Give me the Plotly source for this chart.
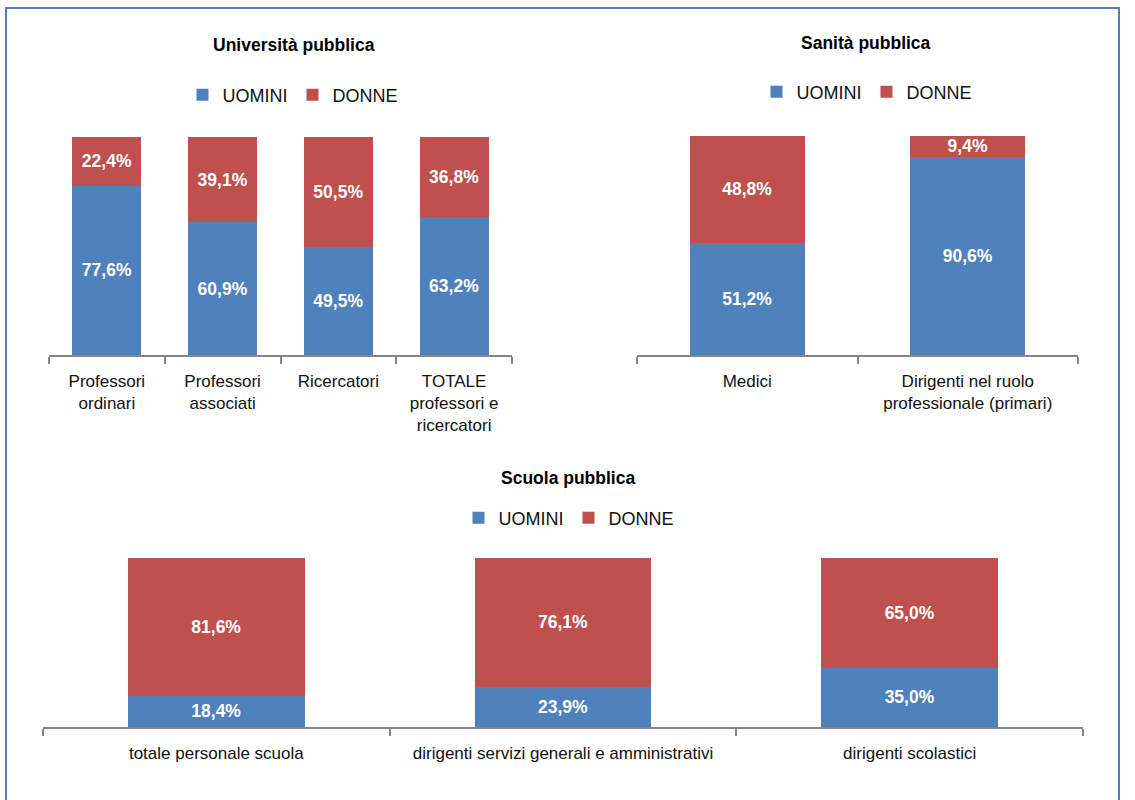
import plotly.graph_objects as go

# ---- data ----
uni_cats = ["Professori<br>ordinari", "Professori<br>associati", "Ricercatori",
            "TOTALE<br>professori e<br>ricercatori"]
uni_uomini = [77.6, 60.9, 49.5, 63.2]
uni_donne = [22.4, 39.1, 50.5, 36.8]

san_cats = ["Medici", "Dirigenti nel ruolo<br>professionale (primari)"]
san_uomini = [51.2, 90.6]
san_donne = [48.8, 9.4]

sc_cats = ["totale personale scuola", "dirigenti servizi generali e amministrativi",
           "dirigenti scolastici"]
sc_uomini = [18.4, 23.9, 35.0]
sc_donne = [81.6, 76.1, 65.0]

series_names = ["UOMINI", "DONNE"]
colors = ["#4F81BD", "#C0504D"]

FONT = "Liberation Sans, Arial, sans-serif"
W, H = 1135, 800

fig = go.Figure()

panels = [
    (uni_cats, uni_uomini, uni_donne, "x", "y", "legend", 0.595),
    (san_cats, san_uomini, san_donne, "x2", "y2", "legend2", 0.523),
    (sc_cats, sc_uomini, sc_donne, "x3", "y3", "legend3", 0.51),
]

for cats, um, dn, xa, ya, lg, bw in panels:
    for name, vals, col in zip(series_names, [um, dn], colors):
        fig.add_trace(go.Bar(
            x=cats, y=vals, name=name, xaxis=xa, yaxis=ya, legend=lg,
            marker=dict(color=col, line=dict(width=0)),
            width=bw,
            texttemplate="%{y:.1f}%", textposition="inside",
            insidetextanchor="middle", textangle=0,
            textfont=dict(family=FONT, size=17.5, color="white", weight="bold"),
            hoverinfo="skip",
        ))

def px_x(p):
    return p / W

def px_y(p):
    return 1 - p / H

xaxis_common = dict(showline=True, linecolor="#868686", linewidth=1.5,
                    ticks="outside", tickson="boundaries", ticklen=7,
                    tickcolor="#868686", tickwidth=1.5, showgrid=False,
                    zeroline=False, tickangle=0, fixedrange=True,
                    ticklabelstandoff=10,
                    tickfont=dict(family=FONT, size=17, color="#111111"))
yaxis_common = dict(range=[0, 100], showticklabels=False, showgrid=False,
                    zeroline=False, showline=False, fixedrange=True)

legend_common = dict(orientation="h", xanchor="center", yanchor="middle",
                     font=dict(family=FONT, size=18, color="#111111"),
                     bgcolor="rgba(0,0,0,0)", itemclick=False, itemdoubleclick=False,
                     traceorder="normal")

fig.update_layout(
    width=W, height=H,
    margin=dict(l=0, r=0, t=0, b=0),
    paper_bgcolor="white", plot_bgcolor="white",
    barmode="stack",
    separators=",.",
    uniformtext=dict(minsize=17, mode="show"),
    font=dict(family=FONT, size=17, color="#111111"),
    xaxis=dict(domain=[px_x(49), px_x(512)], range=[-0.5, 3.5], anchor="y", **xaxis_common),
    yaxis=dict(domain=[px_y(355), px_y(137)], anchor="x", **yaxis_common),
    xaxis2=dict(domain=[px_x(637), px_x(1078)], range=[-0.5, 1.5], anchor="y2", **xaxis_common),
    yaxis2=dict(domain=[px_y(355), px_y(136)], anchor="x2", **yaxis_common),
    xaxis3=dict(domain=[px_x(43), px_x(1083)], range=[-0.5, 2.5], anchor="y3", **xaxis_common),
    yaxis3=dict(domain=[px_y(727), px_y(558)], anchor="x3", **yaxis_common),
    legend=dict(x=px_x(293), y=px_y(95), **legend_common),
    legend2=dict(x=px_x(867), y=px_y(92), **legend_common),
    legend3=dict(x=px_x(569), y=px_y(518), **legend_common),
    showlegend=True,
)

titles = [("Università pubblica", 294, 45), ("Sanità pubblica", 866, 43),
          ("Scuola pubblica", 568, 478)]
for t, x, y in titles:
    fig.add_annotation(text=t, x=px_x(x), y=px_y(y), xref="paper", yref="paper",
                       showarrow=False, xanchor="center", yanchor="middle",
                       font=dict(family=FONT, size=17.5, color="black", weight="bold"))

# outer border
fig.add_shape(type="rect", xref="paper", yref="paper",
              x0=px_x(6), x1=px_x(1119), y0=-0.02, y1=px_y(8),
              line=dict(color="#4F81BD", width=2), fillcolor="rgba(0,0,0,0)",
              layer="below")

fig.write_html("out.html", post_script="document.body.style.margin='0';",
               config={"displayModeBar": False})
